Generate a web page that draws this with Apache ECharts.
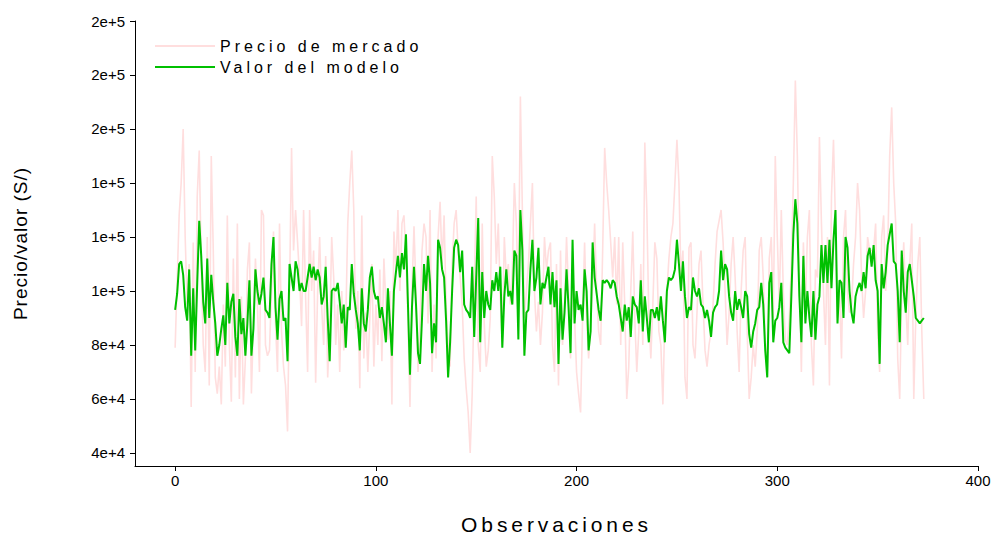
<!DOCTYPE html>
<html>
<head>
<meta charset="utf-8">
<title>Precio de mercado vs valor del modelo</title>
<script src="https://cdn.jsdelivr.net/npm/echarts@6/dist/echarts.min.js"></script>
<style>
  html, body { margin: 0; padding: 0; background: #fff; }
  #chart { width: 999px; height: 536px; }
  /* the reference spreads its legend and axis titles out */
  #chart text[style*="16px"] { letter-spacing: 4px; }
  #chart text[style*="21px"] { letter-spacing: 3.9px; }
  #chart text[style*="19px"] { letter-spacing: 1px; }
</style>
</head>
<body>
<div id="chart"></div>
<script>
// Precio de mercado (observed), one value per observation
const marketPrice = [
  79000,104000,128000,140000,160000,120000,95000,110000,57000,118000,
  70000,135000,152000,110000,80000,70000,120000,65000,150000,115000,
  68000,62000,72000,58000,95000,72000,128000,80000,59000,112000,
  68000,125000,60000,98000,58000,75000,108000,118000,62000,88000,
  112000,95000,70000,130000,128000,80000,76000,78000,100000,122000,
  88000,70000,125000,85000,72000,65000,48000,100000,153000,115000,
  130000,118000,105000,87000,130000,98000,70000,130000,100000,115000,
  66000,100000,120000,94000,80000,113000,68000,85000,120000,105000,
  80000,95000,70000,100000,78000,88000,125000,140000,152000,130000,
  86000,100000,64000,128000,75000,92000,70000,90000,110000,72000,
  95000,80000,108000,74000,112000,95000,82000,100000,58000,122000,
  108000,130000,100000,125000,128000,112000,90000,57000,100000,124000,
  100000,70000,88000,115000,125000,120000,88000,130000,70000,95000,
  75000,120000,133000,110000,128000,95000,80000,72000,110000,125000,
  130000,115000,105000,95000,75000,64000,55000,40000,62000,100000,
  135000,80000,70000,125000,88000,72000,78000,90000,150000,135000,
  110000,125000,98000,80000,120000,105000,110000,95000,108000,140000,
  125000,96000,172000,130000,90000,100000,110000,125000,140000,100000,
  85000,96000,80000,92000,120000,108000,115000,118000,80000,70000,
  110000,65000,115000,80000,95000,120000,100000,75000,110000,90000,
  70000,62000,55000,90000,118000,90000,75000,88000,102000,125000,
  100000,85000,80000,115000,153000,140000,130000,118000,105000,120000,
  95000,120000,80000,118000,95000,60000,72000,100000,122000,90000,
  70000,85000,110000,80000,155000,130000,90000,75000,95000,118000,
  112000,85000,80000,58000,92000,100000,112000,120000,125000,140000,
  156000,140000,105000,115000,68000,60000,116000,118000,80000,75000,
  92000,110000,115000,95000,78000,72000,80000,85000,95000,110000,
  122000,126000,130000,118000,100000,80000,92000,110000,120000,105000,
  85000,70000,100000,115000,120000,85000,60000,68000,80000,72000,
  85000,115000,120000,105000,82000,70000,112000,120000,90000,150000,
  120000,95000,130000,100000,82000,80000,90000,110000,140000,178000,
  150000,105000,70000,118000,95000,120000,130000,80000,65000,108000,
  105000,157000,125000,100000,80000,120000,65000,135000,156000,125000,
  90000,100000,75000,120000,130000,100000,92000,95000,110000,120000,
  140000,130000,105000,90000,100000,120000,115000,115000,115000,125000,
  85000,70000,120000,128000,100000,115000,150000,168000,140000,125000,
  75000,60000,100000,118000,95000,80000,110000,125000,60000,90000,
  110000,120000,85000,60000
];

// Valor del modelo (fitted), one value per observation
const modelValue = [
  93000,99000,110000,111000,106000,94000,89000,108000,76000,101000,
  78000,103000,126000,113000,96000,88000,112000,90000,106000,96000,
  88000,76000,80000,86000,91000,80000,103000,88000,96000,99000,
  83000,76000,97000,84000,90000,76000,88000,104000,76000,86000,
  108000,100000,95000,99000,105000,93000,92000,90000,110000,120000,
  94000,82000,97000,100000,89000,90000,74000,110000,105000,100000,
  111000,108000,100000,103000,100000,100000,105000,110000,105000,109000,
  104000,108000,105000,95000,98000,109000,90000,74000,100000,101000,
  100000,103000,96000,88000,95000,79000,94000,93000,110000,99000,
  93000,88000,78000,101000,88000,85000,93000,105000,109000,100000,
  97000,98000,90000,94000,88000,81000,101000,88000,76000,100000,
  107000,113000,105000,114000,108000,121000,95000,69000,94000,109000,
  95000,77000,73000,90000,110000,100000,113000,103000,77000,88000,
  81000,119000,116000,108000,105000,89000,68000,81000,100000,116000,
  119000,117000,107000,115000,95000,93000,92000,90000,109000,83000,
  105000,127000,81000,107000,90000,100000,95000,93000,104000,100000,
  107000,100000,109000,79000,98000,108000,98000,100000,95000,115000,
  113000,82000,130000,115000,76000,92000,93000,108000,119000,100000,
  105000,116000,95000,103000,101000,105000,109000,95000,107000,94000,
  104000,73000,101000,82000,92000,108000,94000,77000,119000,88000,
  100000,93000,95000,89000,108000,100000,78000,85000,118000,105000,
  99000,93000,89000,104000,103000,104000,103000,101000,104000,103000,
  98000,95000,90000,85000,95000,89000,94000,83000,98000,95000,
  94000,88000,104000,85000,98000,90000,81000,93000,93000,90000,
  94000,89000,98000,89000,81000,100000,105000,104000,105000,108000,
  119000,110000,100000,111000,98000,90000,94000,93000,105000,100000,
  98000,101000,95000,94000,90000,93000,89000,83000,92000,94000,
  95000,100000,115000,104000,110000,108000,98000,92000,89000,100000,
  93000,97000,94000,90000,100000,98000,84000,79000,85000,88000,
  93000,94000,103000,95000,78000,68000,103000,107000,81000,89000,
  90000,94000,103000,81000,79000,78000,77000,98000,121000,134000,
  125000,98000,81000,113000,88000,100000,90000,83000,100000,82000,
  95000,98000,117000,103000,117000,103000,119000,101000,119000,130000,
  88000,104000,103000,90000,120000,116000,100000,92000,88000,98000,
  101000,103000,100000,107000,101000,113000,116000,109000,117000,104000,
  100000,73000,110000,101000,107000,117000,121000,125000,111000,110000,
  100000,81000,115000,100000,92000,107000,110000,104000,98000,90000,
  89000,88000,89000,90000
];

const seriesNames = ['Precio de mercado', 'Valor del modelo'];
const xTickValues = [0, 100, 200, 300, 400];
const yTickValues = [40000, 60000, 80000, 100000, 120000, 140000, 160000, 180000, 200000];
const yTickLabels = ['4e+4', '6e+4', '8e+4', '1e+5', '1e+5', '1e+5', '2e+5', '2e+5', '2e+5'];

const chart = echarts.init(document.getElementById('chart'), null, { renderer: 'svg' });
const font = 'Liberation Sans';

chart.setOption({
  animation: false,
  textStyle: { fontFamily: font, color: '#000' },
  grid: { left: 135, right: 21, top: 21, bottom: 70, outerBoundsMode: 'none' },
  legend: {
    orient: 'vertical',
    left: 155,
    top: 38,
    padding: 0,
    itemWidth: 60,
    itemHeight: 2,
    itemGap: 5,
    icon: 'rect',
    textStyle: { fontSize: 16, fontFamily: font, color: '#000' },
    data: seriesNames
  },
  xAxis: {
    type: 'value',
    min: -20,
    max: 400,
    name: 'Observaciones',
    nameLocation: 'middle',
    nameGap: 48,
    nameTextStyle: { fontSize: 21, fontFamily: font, color: '#000' },
    splitLine: { show: false },
    axisLine: { onZero: false, lineStyle: { color: '#000', width: 1 } },
    axisTick: { show: true, length: 5, lineStyle: { color: '#000' }, customValues: xTickValues },
    axisLabel: { fontSize: 15, color: '#000', margin: 7, customValues: xTickValues }
  },
  yAxis: {
    type: 'value',
    min: 35185,
    max: 200000,
    name: 'Precio/valor (S/)',
    nameLocation: 'middle',
    nameRotate: 90,
    nameGap: 105,
    nameTextStyle: { fontSize: 19, fontFamily: font, color: '#000' },
    splitLine: { show: false },
    axisLine: { show: true, onZero: false, lineStyle: { color: '#000', width: 1 } },
    axisTick: { show: true, length: 5, lineStyle: { color: '#000' }, customValues: yTickValues },
    axisLabel: {
      fontSize: 15, color: '#000', margin: 10, customValues: yTickValues,
      formatter: v => yTickLabels[yTickValues.indexOf(v)]
    }
  },
  series: [
    {
      name: seriesNames[0],
      type: 'line',
      showSymbol: false,
      color: '#ffdede',
      lineStyle: { color: '#ffdede', width: 1.6 },
      data: marketPrice.map((v, i) => [i, v])
    },
    {
      name: seriesNames[1],
      type: 'line',
      showSymbol: false,
      color: '#00c000',
      lineStyle: { color: '#00c000', width: 2 },
      data: modelValue.map((v, i) => [i, v])
    }
  ]
});
</script>
</body>
</html>
